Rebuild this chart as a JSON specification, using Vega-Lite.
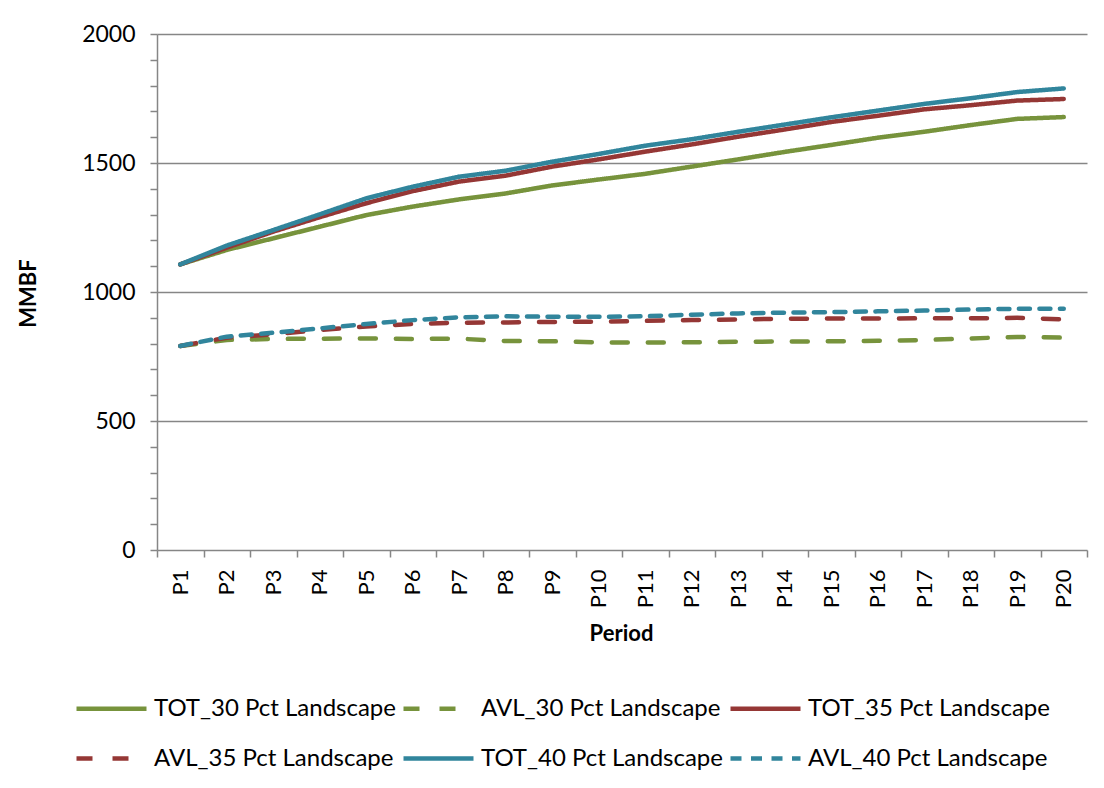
{
  "$schema": "https://vega.github.io/schema/vega-lite/v6.json",
  "width": 930,
  "height": 516,
  "autosize": {"type": "none"},
  "padding": {"left": 157, "top": 34, "right": 17, "bottom": 238},
  "background": "white",
  "config": {
    "font": "Lato",
    "view": {"stroke": null},
    "axis": {
      "domainColor": "#868686",
      "domainWidth": 1.5,
      "tickColor": "#868686",
      "tickWidth": 1.5,
      "gridColor": "#868686",
      "gridWidth": 1.5,
      "labelColor": "black",
      "labelFont": "Lato",
      "titleColor": "black",
      "titleFont": "Lato",
      "titleFontWeight": "bold",
      "titleFontSize": 22
    },
    "legend": {
      "title": null,
      "orient": "none",
      "legendX": -83,
      "legendY": 637,
      "direction": "horizontal",
      "columns": 3,
      "gridAlign": "all",
      "columnPadding": -2,
      "rowPadding": -22,
      "symbolType": "stroke",
      "symbolSize": 4900,
      "symbolStrokeWidth": 4.5,
      "labelFont": "Lato",
      "labelFontSize": 24,
      "labelColor": "black",
      "labelOffset": 5,
      "labelLimit": 400
    }
  },
  "datasets": {
    "tbl": [
      {"period":"P1","series":"TOT_30 Pct Landscape","value":1107},
      {"period":"P2","series":"TOT_30 Pct Landscape","value":1163},
      {"period":"P3","series":"TOT_30 Pct Landscape","value":1208},
      {"period":"P4","series":"TOT_30 Pct Landscape","value":1253},
      {"period":"P5","series":"TOT_30 Pct Landscape","value":1298},
      {"period":"P6","series":"TOT_30 Pct Landscape","value":1331},
      {"period":"P7","series":"TOT_30 Pct Landscape","value":1359},
      {"period":"P8","series":"TOT_30 Pct Landscape","value":1382},
      {"period":"P9","series":"TOT_30 Pct Landscape","value":1413},
      {"period":"P10","series":"TOT_30 Pct Landscape","value":1436},
      {"period":"P11","series":"TOT_30 Pct Landscape","value":1458},
      {"period":"P12","series":"TOT_30 Pct Landscape","value":1486},
      {"period":"P13","series":"TOT_30 Pct Landscape","value":1514},
      {"period":"P14","series":"TOT_30 Pct Landscape","value":1543},
      {"period":"P15","series":"TOT_30 Pct Landscape","value":1570},
      {"period":"P16","series":"TOT_30 Pct Landscape","value":1598},
      {"period":"P17","series":"TOT_30 Pct Landscape","value":1621},
      {"period":"P18","series":"TOT_30 Pct Landscape","value":1647},
      {"period":"P19","series":"TOT_30 Pct Landscape","value":1671},
      {"period":"P20","series":"TOT_30 Pct Landscape","value":1678},
      {"period":"P1","series":"AVL_30 Pct Landscape","value":791},
      {"period":"P2","series":"AVL_30 Pct Landscape","value":814},
      {"period":"P3","series":"AVL_30 Pct Landscape","value":818},
      {"period":"P4","series":"AVL_30 Pct Landscape","value":819},
      {"period":"P5","series":"AVL_30 Pct Landscape","value":820},
      {"period":"P6","series":"AVL_30 Pct Landscape","value":818},
      {"period":"P7","series":"AVL_30 Pct Landscape","value":819},
      {"period":"P8","series":"AVL_30 Pct Landscape","value":810},
      {"period":"P9","series":"AVL_30 Pct Landscape","value":809},
      {"period":"P10","series":"AVL_30 Pct Landscape","value":805},
      {"period":"P11","series":"AVL_30 Pct Landscape","value":804},
      {"period":"P12","series":"AVL_30 Pct Landscape","value":805},
      {"period":"P13","series":"AVL_30 Pct Landscape","value":807},
      {"period":"P14","series":"AVL_30 Pct Landscape","value":808},
      {"period":"P15","series":"AVL_30 Pct Landscape","value":809},
      {"period":"P16","series":"AVL_30 Pct Landscape","value":811},
      {"period":"P17","series":"AVL_30 Pct Landscape","value":814},
      {"period":"P18","series":"AVL_30 Pct Landscape","value":820},
      {"period":"P19","series":"AVL_30 Pct Landscape","value":826},
      {"period":"P20","series":"AVL_30 Pct Landscape","value":823},
      {"period":"P1","series":"TOT_35 Pct Landscape","value":1107},
      {"period":"P2","series":"TOT_35 Pct Landscape","value":1172},
      {"period":"P3","series":"TOT_35 Pct Landscape","value":1234},
      {"period":"P4","series":"TOT_35 Pct Landscape","value":1290},
      {"period":"P5","series":"TOT_35 Pct Landscape","value":1344},
      {"period":"P6","series":"TOT_35 Pct Landscape","value":1391},
      {"period":"P7","series":"TOT_35 Pct Landscape","value":1428},
      {"period":"P8","series":"TOT_35 Pct Landscape","value":1451},
      {"period":"P9","series":"TOT_35 Pct Landscape","value":1486},
      {"period":"P10","series":"TOT_35 Pct Landscape","value":1514},
      {"period":"P11","series":"TOT_35 Pct Landscape","value":1544},
      {"period":"P12","series":"TOT_35 Pct Landscape","value":1572},
      {"period":"P13","series":"TOT_35 Pct Landscape","value":1602},
      {"period":"P14","series":"TOT_35 Pct Landscape","value":1630},
      {"period":"P15","series":"TOT_35 Pct Landscape","value":1659},
      {"period":"P16","series":"TOT_35 Pct Landscape","value":1683},
      {"period":"P17","series":"TOT_35 Pct Landscape","value":1708},
      {"period":"P18","series":"TOT_35 Pct Landscape","value":1724},
      {"period":"P19","series":"TOT_35 Pct Landscape","value":1742},
      {"period":"P20","series":"TOT_35 Pct Landscape","value":1748},
      {"period":"P1","series":"AVL_35 Pct Landscape","value":791},
      {"period":"P2","series":"AVL_35 Pct Landscape","value":823},
      {"period":"P3","series":"AVL_35 Pct Landscape","value":836},
      {"period":"P4","series":"AVL_35 Pct Landscape","value":853},
      {"period":"P5","series":"AVL_35 Pct Landscape","value":866},
      {"period":"P6","series":"AVL_35 Pct Landscape","value":876},
      {"period":"P7","series":"AVL_35 Pct Landscape","value":881},
      {"period":"P8","series":"AVL_35 Pct Landscape","value":882},
      {"period":"P9","series":"AVL_35 Pct Landscape","value":884},
      {"period":"P10","series":"AVL_35 Pct Landscape","value":885},
      {"period":"P11","series":"AVL_35 Pct Landscape","value":888},
      {"period":"P12","series":"AVL_35 Pct Landscape","value":891},
      {"period":"P13","series":"AVL_35 Pct Landscape","value":894},
      {"period":"P14","series":"AVL_35 Pct Landscape","value":896},
      {"period":"P15","series":"AVL_35 Pct Landscape","value":897},
      {"period":"P16","series":"AVL_35 Pct Landscape","value":897},
      {"period":"P17","series":"AVL_35 Pct Landscape","value":898},
      {"period":"P18","series":"AVL_35 Pct Landscape","value":898},
      {"period":"P19","series":"AVL_35 Pct Landscape","value":900},
      {"period":"P20","series":"AVL_35 Pct Landscape","value":894},
      {"period":"P1","series":"TOT_40 Pct Landscape","value":1107},
      {"period":"P2","series":"TOT_40 Pct Landscape","value":1180},
      {"period":"P3","series":"TOT_40 Pct Landscape","value":1240},
      {"period":"P4","series":"TOT_40 Pct Landscape","value":1301},
      {"period":"P5","series":"TOT_40 Pct Landscape","value":1363},
      {"period":"P6","series":"TOT_40 Pct Landscape","value":1408},
      {"period":"P7","series":"TOT_40 Pct Landscape","value":1447},
      {"period":"P8","series":"TOT_40 Pct Landscape","value":1470},
      {"period":"P9","series":"TOT_40 Pct Landscape","value":1505},
      {"period":"P10","series":"TOT_40 Pct Landscape","value":1535},
      {"period":"P11","series":"TOT_40 Pct Landscape","value":1567},
      {"period":"P12","series":"TOT_40 Pct Landscape","value":1592},
      {"period":"P13","series":"TOT_40 Pct Landscape","value":1621},
      {"period":"P14","series":"TOT_40 Pct Landscape","value":1649},
      {"period":"P15","series":"TOT_40 Pct Landscape","value":1677},
      {"period":"P16","series":"TOT_40 Pct Landscape","value":1703},
      {"period":"P17","series":"TOT_40 Pct Landscape","value":1729},
      {"period":"P18","series":"TOT_40 Pct Landscape","value":1751},
      {"period":"P19","series":"TOT_40 Pct Landscape","value":1775},
      {"period":"P20","series":"TOT_40 Pct Landscape","value":1789},
      {"period":"P1","series":"AVL_40 Pct Landscape","value":791},
      {"period":"P2","series":"AVL_40 Pct Landscape","value":827},
      {"period":"P3","series":"AVL_40 Pct Landscape","value":842},
      {"period":"P4","series":"AVL_40 Pct Landscape","value":859},
      {"period":"P5","series":"AVL_40 Pct Landscape","value":876},
      {"period":"P6","series":"AVL_40 Pct Landscape","value":891},
      {"period":"P7","series":"AVL_40 Pct Landscape","value":902},
      {"period":"P8","series":"AVL_40 Pct Landscape","value":906},
      {"period":"P9","series":"AVL_40 Pct Landscape","value":904},
      {"period":"P10","series":"AVL_40 Pct Landscape","value":904},
      {"period":"P11","series":"AVL_40 Pct Landscape","value":906},
      {"period":"P12","series":"AVL_40 Pct Landscape","value":912},
      {"period":"P13","series":"AVL_40 Pct Landscape","value":917},
      {"period":"P14","series":"AVL_40 Pct Landscape","value":920},
      {"period":"P15","series":"AVL_40 Pct Landscape","value":922},
      {"period":"P16","series":"AVL_40 Pct Landscape","value":925},
      {"period":"P17","series":"AVL_40 Pct Landscape","value":928},
      {"period":"P18","series":"AVL_40 Pct Landscape","value":932},
      {"period":"P19","series":"AVL_40 Pct Landscape","value":935},
      {"period":"P20","series":"AVL_40 Pct Landscape","value":935}
    ]
  },
  "data": {"name": "tbl"},
  "mark": {"type": "line", "strokeWidth": 4.5, "strokeCap": "round", "strokeJoin": "round"},
  "encoding": {
    "x": {
      "field": "period",
      "type": "ordinal",
      "sort": ["P1","P2","P3","P4","P5","P6","P7","P8","P9","P10","P11","P12","P13","P14","P15","P16","P17","P18","P19","P20"],
      "scale": {"type": "band", "paddingInner": 0, "paddingOuter": 0},
      "axis": {
        "title": "Period",
        "titleX": 464,
        "titleY": 83,
        "titleBaseline": "middle",
        "titleAlign": "center",
        "labelAngle": -90,
        "labelFontSize": 22,
        "labelPadding": 12,
        "tickBand": "extent",
        "tickSize": 7,
        "grid": false
      }
    },
    "y": {
      "field": "value",
      "type": "quantitative",
      "scale": {"domain": [0, 2000], "nice": false, "zero": true},
      "axis": {
        "title": "MMBF",
        "titleX": -129,
        "titleY": 259,
        "titleAngle": -90,
        "titleAlign": "center",
        "titleBaseline": "middle",
        "values": [0,100,200,300,400,500,600,700,800,900,1000,1100,1200,1300,1400,1500,1600,1700,1800,1900,2000],
        "labelExpr": "datum.value % 500 === 0 ? format(datum.value, 'd') : ''",
        "labelFontSize": 23,
        "labelPadding": 15,
        "tickSize": 7,
        "grid": true,
        "gridOpacity": {"condition": {"test": "datum.value % 500 === 0 && datum.value > 0", "value": 1}, "value": 0}
      }
    },
    "color": {
      "field": "series",
      "type": "nominal",
      "scale": {
        "domain": ["TOT_30 Pct Landscape","AVL_30 Pct Landscape","TOT_35 Pct Landscape","AVL_35 Pct Landscape","TOT_40 Pct Landscape","AVL_40 Pct Landscape"],
        "range": ["#77933C","#77933C","#953735","#953735","#31859C","#31859C"]
      },
      "legend": {"title": null}
    },
    "strokeDash": {
      "field": "series",
      "type": "nominal",
      "scale": {
        "domain": ["TOT_30 Pct Landscape","AVL_30 Pct Landscape","TOT_35 Pct Landscape","AVL_35 Pct Landscape","TOT_40 Pct Landscape","AVL_40 Pct Landscape"],
        "range": [[1,0],[16,20],[1,0],[16,20],[1,0],[11,9.5]]
      },
      "legend": {"title": null}
    }
  }
}
